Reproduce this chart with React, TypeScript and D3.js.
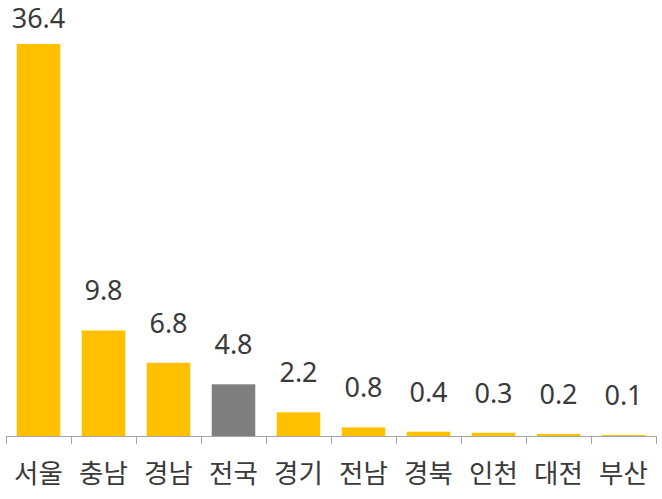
import React, { useEffect, useRef } from 'react';
import * as d3 from 'd3';

const categories = ['서울', '충남', '경남', '전국', '경기', '전남', '경북', '인천', '대전', '부산'];
const values = [36.4, 9.8, 6.8, 4.8, 2.2, 0.8, 0.4, 0.3, 0.2, 0.1];
const highlight = ['전국'];

const width = 662;
const height = 499;

export default function App() {
  const svgRef = useRef<SVGSVGElement>(null);

  useEffect(() => {
    if (!svgRef.current) return;
    const svg = d3.select(svgRef.current);
    svg.selectAll('*').remove();

    const baseY = 436;
    const x = d3.scaleBand<string>()
      .domain(categories)
      .range([6, 656])
      .paddingInner(0.33)
      .paddingOuter(0.165);

    const y = d3.scaleLinear()
      .domain([0, 36.4])
      .range([baseY, 44]);

    const data = categories.map((c, i) => ({ cat: c, value: values[i] }));

    // bars
    svg.append('g')
      .selectAll('rect')
      .data(data)
      .enter()
      .append('rect')
      .attr('x', d => x(d.cat)!)
      .attr('y', d => y(d.value))
      .attr('width', x.bandwidth())
      .attr('height', d => baseY - y(d.value))
      .attr('fill', d => highlight.includes(d.cat) ? '#7f7f7f' : '#ffc000');

    // axis line + ticks
    const axis = svg.append('g').attr('stroke', '#a6a6a6').attr('stroke-width', 1);
    axis.append('line')
      .attr('x1', 6).attr('x2', 656)
      .attr('y1', baseY + 0.5).attr('y2', baseY + 0.5);
    const step = x.step();
    d3.range(categories.length + 1).forEach(i => {
      const tx = Math.round(6 + i * step) + 0.5;
      axis.append('line')
        .attr('x1', tx).attr('x2', tx)
        .attr('y1', baseY).attr('y2', baseY + 8);
    });

    // value labels
    svg.append('g')
      .selectAll('text')
      .data(data)
      .enter()
      .append('text')
      .attr('x', d => x(d.cat)! + x.bandwidth() / 2)
      .attr('y', d => Math.max(28, y(d.value) - 30))
      .attr('text-anchor', 'middle')
      .attr('font-family', '"Noto Sans", sans-serif')
      .attr('font-size', 27)
      .attr('fill', '#3a3a3a')
      .text(d => d.value.toFixed(1));

    // category labels
    svg.append('g')
      .selectAll('text')
      .data(categories)
      .enter()
      .append('text')
      .attr('x', d => x(d)! + x.bandwidth() / 2)
      .attr('y', 483)
      .attr('text-anchor', 'middle')
      .attr('font-family', '"Noto Sans CJK KR", sans-serif')
      .attr('font-size', 26.5)
      .attr('fill', '#3a3a3a')
      .text(d => d);
  }, []);

  return (
    <svg
      ref={svgRef}
      width={width}
      height={height}
      style={{ position: 'absolute', left: 0, top: 0, background: '#fff' }}
    />
  );
}
